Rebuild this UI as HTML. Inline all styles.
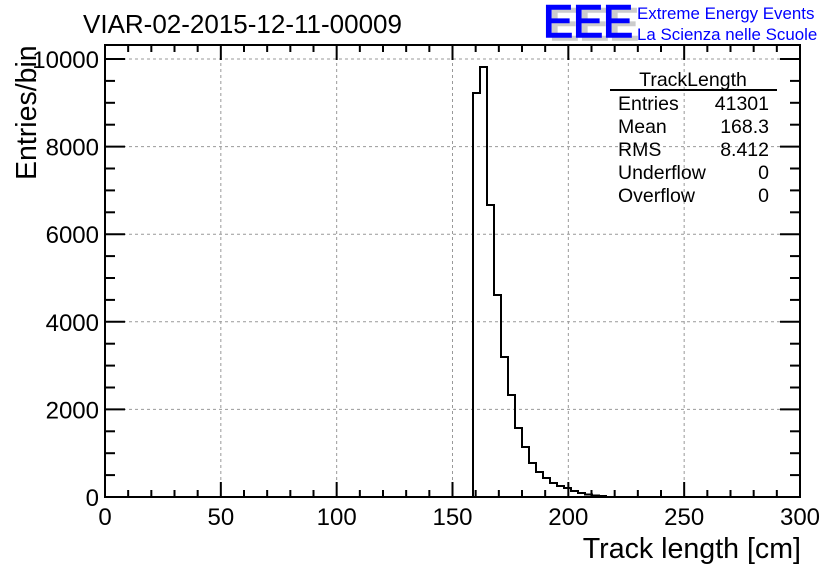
<!DOCTYPE html>
<html><head><meta charset="utf-8"><style>
body{margin:0;background:#fff}
svg text{font-family:"Liberation Sans",Arial,sans-serif}
</style></head><body>
<svg id="s" width="836" height="572" viewBox="0 0 836 572" xmlns="http://www.w3.org/2000/svg">
<rect width="836" height="572" fill="#fff"/>
<g id="grid" stroke="#999" stroke-width="1" stroke-dasharray="3,3" fill="none"></g>
<g id="ticks" stroke="#000" stroke-width="2" fill="none"></g>
<polyline id="h" fill="none" stroke="#000" stroke-width="2"/>
<rect x="105" y="45" width="695" height="452" fill="none" stroke="#000" stroke-width="2"/>
<text x="83" y="33" font-size="26">VIAR-02-2015-12-11-00009</text>
<text x="801" y="558" font-size="28.6" text-anchor="end">Track length [cm]</text>
<text transform="translate(36,180) rotate(-90)" font-size="28.5">Entries/bin</text>
<g id="lab" font-size="24" fill="#000"></g>
<g font-size="45">
<text x="549" y="40" fill="#ccc" stroke="#ccc" stroke-width="1.5">EEE</text>
<text x="543" y="37" fill="#0000ff" stroke="#0000ff" stroke-width="1.5">EEE</text>
</g>
<text x="637" y="19" font-size="16.9" fill="#0000ff">Extreme Energy Events</text>
<text x="637" y="40" font-size="16.9" fill="#0000ff">La Scienza nelle Scuole</text>
<g font-size="19.5" fill="#000">
<text x="693" y="86" text-anchor="middle">TrackLength</text>
<line x1="610" y1="90" x2="777" y2="90" stroke="#000" stroke-width="2"/>
<text x="618" y="110">Entries</text><text x="769" y="110" text-anchor="end">41301</text>
<text x="618" y="133">Mean</text><text x="769" y="133" text-anchor="end">168.3</text>
<text x="618" y="156">RMS</text><text x="769" y="156" text-anchor="end">8.412</text>
<text x="618" y="179">Underflow</text><text x="769" y="179" text-anchor="end">0</text>
<text x="618" y="202">Overflow</text><text x="769" y="202" text-anchor="end">0</text>
</g>
</svg>
<script>
var X0=105,X1=800,Y0=497,Y10=59;
function fx(v){return X0+(X1-X0)*v/300}
function fy(v){return Y0-(Y0-Y10)*v/10000}
var g=document.getElementById('grid'),t=document.getElementById('ticks'),l=document.getElementById('lab');
var ns='http://www.w3.org/2000/svg';
function ln(p,a,b,c,d){var e=document.createElementNS(ns,'line');e.setAttribute('x1',a);e.setAttribute('y1',b);e.setAttribute('x2',c);e.setAttribute('y2',d);p.appendChild(e)}
function tx(s,x,y,anc){var e=document.createElementNS(ns,'text');e.setAttribute('x',x);e.setAttribute('y',y);e.setAttribute('text-anchor',anc);e.textContent=s;l.appendChild(e)}
for(var v=0;v<=300;v+=10){var x=fx(v),maj=v%50==0,L=maj?15:7;
 ln(t,x,Y0,x,Y0-L);ln(t,x,45,x,45+L);
 if(maj){if(v>0&&v<300)ln(g,x,45,x,Y0);tx(String(v),x,525,'middle');}}
for(var v=0;v<=10000;v+=500){var y=fy(v),maj=v%2000==0,L=maj?20:10;
 ln(t,X0,y,X0+L,y);ln(t,X1,y,X1-L,y);
 if(maj){if(v>0)ln(g,X0,y,X1,y);tx(String(v),99,y+9,'end');}}
var tops=[93,67,205,295,357,395,428,447,463,472,478,483,486,488,491,493,494.5,495.5,496];
var pts=[],x=473,w=7.0;pts.push(x+','+Y0);
for(var i=0;i<tops.length;i++){var x2=x+w;pts.push(x+','+tops[i]);pts.push(x2+','+tops[i]);x=x2;}
pts.push(x+','+Y0);
document.getElementById('h').setAttribute('points',pts.join(' '));
</script>
</body></html>
